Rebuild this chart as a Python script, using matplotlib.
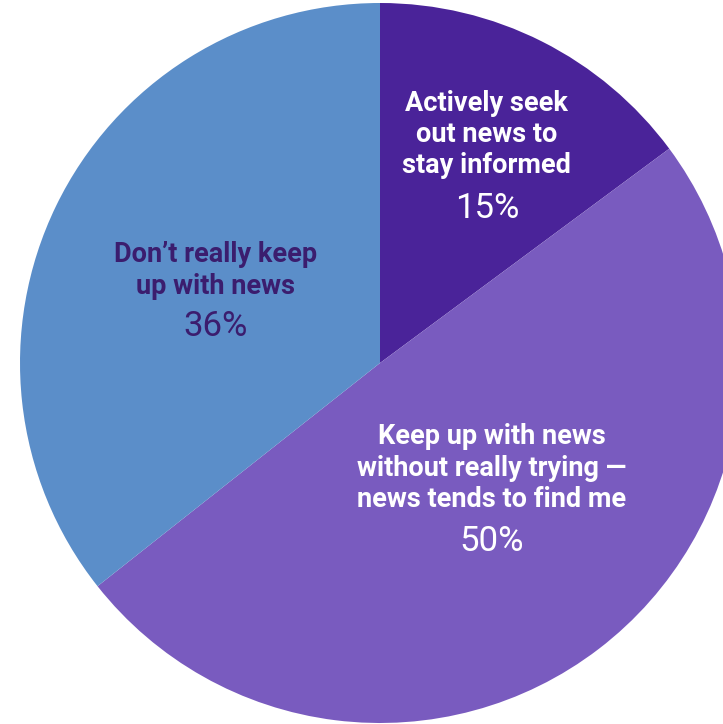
"""
News-Konsum Kreisdiagramm – nachgebaut mit matplotlib, speichert out.png.
"""
import matplotlib
matplotlib.use("Agg")
import matplotlib.pyplot as plt

# ── Daten ─────────────────────────────────────────────────────────────────────
labels = [
    "Actively seek\nout news to\nstay informed",
    "Keep up with news\nwithout really trying —\nnews tends to find me",
    "Don’t really keep\nup with news",
]
values = [15, 50, 36]
pct_labels = ["15%", "50%", "36%"]

colors = ["#4a2399", "#795bbf", "#5b8ec9"]
text_colors = ["white", "white", "#3b1d6e"]

# Textpositionen in Datenkoordinaten (Mittelpunkt Label, Mittelpunkt Prozent)
label_pos = [(0.297, 0.634), (0.311, -0.292), (-0.458, 0.257)]
pct_pos = [(0.297, 0.428), (0.311, -0.497), (-0.458, 0.100)]

W, H = 723, 724
fig = plt.figure(figsize=(W / 100, H / 100), dpi=100)
cx, cy, r = 380, 363, 360
ax = fig.add_axes([(cx - r) / W, (H - cy - r) / H, 2 * r / W, 2 * r / H])
ax.pie(values, colors=colors, startangle=90, counterclock=False, radius=1,
       wedgeprops=dict(linewidth=0))
ax.set_xlim(-1, 1)
ax.set_ylim(-1, 1)
ax.set_aspect("auto")
ax.axis("off")

for lab, pct, tc, lp, pp in zip(labels, pct_labels, text_colors, label_pos, pct_pos):
    ax.text(lp[0], lp[1], lab, ha="center", va="center", color=tc,
            fontsize=19.5, fontweight="bold", family="Roboto", linespacing=1.2)
    ax.text(pp[0], pp[1], pct, ha="center", va="center", color=tc,
            fontsize=25, fontweight="normal", family="Roboto")

fig.savefig("out.png", dpi=100)
